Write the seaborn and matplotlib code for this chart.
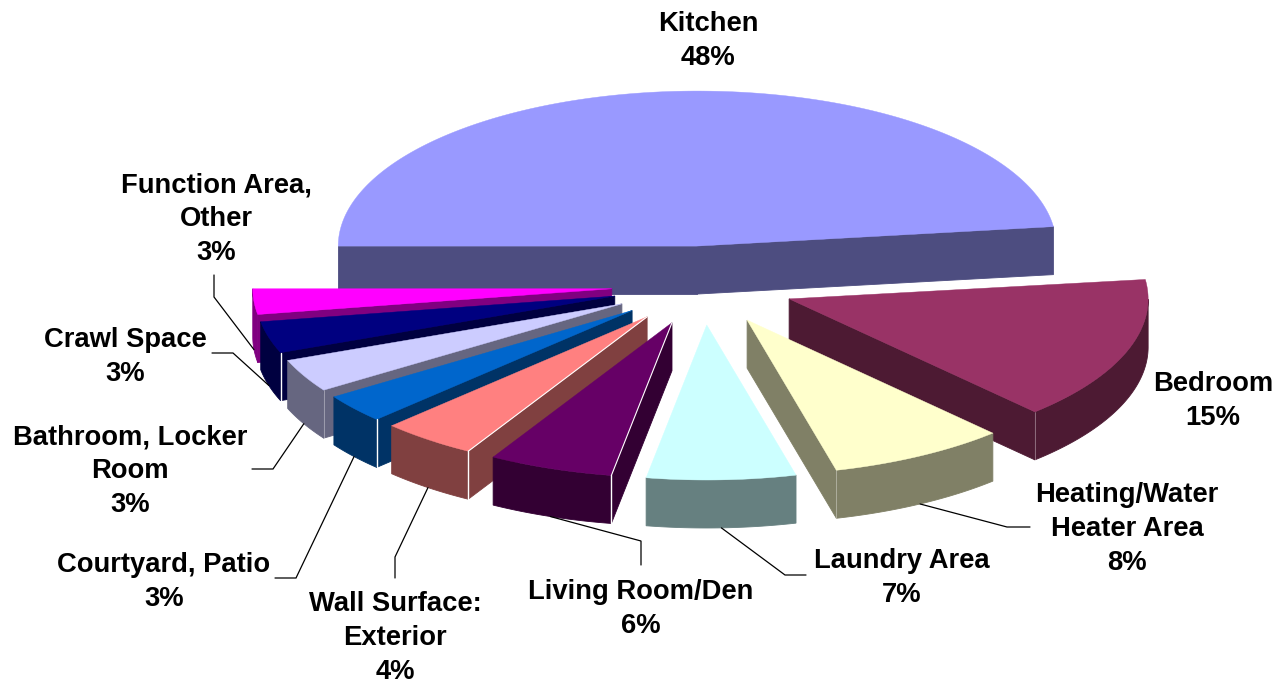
import numpy as np
import matplotlib
matplotlib.use("Agg")
import matplotlib.pyplot as plt
import seaborn as sns

# ---- data ----
categories = ["Kitchen", "Bedroom", "Heating/Water\nHeater Area", "Laundry Area",
              "Living Room/Den", "Wall Surface:\nExterior", "Courtyard, Patio",
              "Bathroom, Locker\nRoom", "Crawl Space", "Function Area,\nOther"]
values = [48.0, 15.0, 8.0, 6.7, 5.6, 4.3, 3.0, 3.45, 3.3, 2.65]
top_colors = ["#9999FF", "#993366", "#FFFFCC", "#CCFFFF", "#660066",
              "#FF8080", "#0066CC", "#CCCCFF", "#000080", "#FF00FF"]

# ---- layout (pixels of the 1285x685 canvas) ----
CX, CY, RX, RY = 703, 285.5, 359, 155
DEPTH, EXPLODE = 48, 0.255
START_ANGLE = 180
label_centers = [(708, 41), (1213, 401), (1127, 529), (902, 578), (641, 609),
                 (395, 638), (164, 582), (130, 471), (125, 357), (216, 219)]
# elbow and end of each leader, towards the label (None: no leader)
leader_paths = [None, None,
                [(1007, 527), (1030, 527)], [(785, 575), (806, 575)],
                [(641, 541), (641, 565)], [(395, 557), (395, 578)],
                [(296, 578), (275, 578)], [(273, 469), (252, 469)],
                [(233, 353), (212, 353)], [(214, 297), (214, 275)]]
bright_corner = {"Crawl Space", "Courtyard, Patio", "Wall Surface:\nExterior", "Living Room/Den"}
faint_corner = {"Bedroom", "Heating/Water\nHeater Area", "Bathroom, Locker\nRoom"}
bright_edge = {"Wall Surface:\nExterior", "Living Room/Den"}

sns.set_theme(style="white")
plt.rcParams["font.family"] = ["Liberation Sans", "DejaVu Sans"]
palette = sns.color_palette(top_colors)

fig, ax = plt.subplots(figsize=(12.85, 6.85), dpi=100)
fig.subplots_adjust(0, 0, 1, 1)
ax.set_xlim(0, 1285)
ax.set_ylim(685, 0)
ax.axis("off")


def rim(apex, deg):
    r = np.radians(deg)
    return apex[0] + RX * np.cos(r), apex[1] - RY * np.sin(r)


edges = START_ANGLE - np.concatenate([[0], np.cumsum(values)]) * 360 / sum(values)
slices = []
for i, name in enumerate(categories):
    a0, a1 = edges[i], edges[i + 1]
    mid = np.radians((a0 + a1) / 2)
    apex = (CX + EXPLODE * RX * np.cos(mid), CY - EXPLODE * RY * np.sin(mid))
    slices.append((apex[1], i, name, a0, a1, apex))

for _, i, name, a0, a1, apex in sorted(slices, key=lambda s: s[0]):
    top = palette[i]
    side = tuple(c * 0.5 for c in top)
    angs = np.linspace(a0, a1, 200)
    xs, ys = rim(apex, angs)
    mx, my = rim(apex, (a0 + a1) / 2)

    # outer wall: the part of the rim that faces the viewer
    front = np.sin(np.radians(angs)) <= 0
    if front.any():
        fx, fy = xs[front], ys[front]
        ax.fill(np.r_[fx, fx[::-1]], np.r_[fy, fy[::-1] + DEPTH], color=side, lw=0.6, zorder=apex[1])

    # radial walls that face the viewer
    for a in (a0, a1):
        qx, qy = rim(apex, a)
        line_y = apex[1] + (qy - apex[1]) * (mx - apex[0]) / (qx - apex[0])
        if my < line_y:
            ax.fill([apex[0], qx, qx, apex[0]],
                    [apex[1], qy, qy + DEPTH, apex[1] + DEPTH],
                    color=side, lw=0.6, zorder=apex[1])
            if name in bright_corner or name in faint_corner:
                ax.plot([qx, qx], [qy, qy + DEPTH], color="white",
                        lw=1.0 if name in bright_corner else 0.5,
                        alpha=1 if name in bright_corner else 0.5, zorder=apex[1] + 0.1)
            if name in bright_edge:
                ax.plot([apex[0], qx], [apex[1], qy], color="white", lw=0.8, zorder=apex[1] + 0.2)

    # top face
    ax.fill(np.r_[apex[0], xs], np.r_[apex[1], ys], color=top, lw=0.3, zorder=apex[1] + 0.05)

    # leader line, anchored at the middle of the outer wall's lower edge
    if leader_paths[i] is not None:
        px = [mx] + [p[0] for p in leader_paths[i]]
        py = [my + DEPTH] + [p[1] for p in leader_paths[i]]
        ax.plot(px, py, color="black", lw=0.9, zorder=1000, solid_joinstyle="miter")

    # label
    lx, ly = label_centers[i]
    ax.text(lx, ly, f"{name}\n{round(values[i])}%", ha="center", va="center", ma="center",
            fontsize=19.7, fontweight="bold", color="black", linespacing=1.39, zorder=1100)

fig.savefig("out.png", dpi=100, facecolor="white")
